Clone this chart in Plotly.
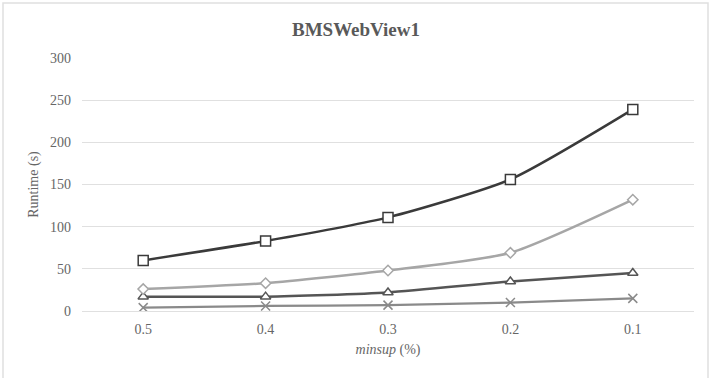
import plotly.graph_objects as go

categories = ["0.5", "0.4", "0.3", "0.2", "0.1"]
series_square = [60, 83, 111, 156, 239]
series_diamond = [26, 33, 48, 69, 132]
series_triangle = [17, 17, 22, 35, 45]
series_cross = [4, 6, 7, 10, 15]
y_ticks = [0, 50, 100, 150, 200, 250, 300]

FONT = "Liberation Serif, Times New Roman, DejaVu Serif, serif"
fig = go.Figure()

def add(vals, color, symbol, size, width, fill):
    fig.add_trace(go.Scatter(
        x=categories, y=vals, mode="lines+markers",
        line=dict(color=color, width=width, shape="spline", smoothing=0.6),
        marker=dict(symbol=symbol, size=size, color=fill,
                    line=dict(color=color, width=1.5)),
        showlegend=False))

add(series_cross, "#8a8a8a", "x-thin-open", 9, 2.2, "#8a8a8a")
add(series_triangle, "#555555", "triangle-up", 9, 2.5, "white")
add(series_diamond, "#a6a6a6", "diamond", 8, 2.5, "white")
add(series_square, "#3a3a3a", "square", 10, 2.5, "white")

L, R, T, B = 82, 18, 58, 67
PW, PH = 712 - L - R, 378 - T - B

def px(x):
    return (x - L) / PW

def py(y):
    return (378 - B - y) / PH

fig.update_layout(
    width=712, height=378,
    margin=dict(l=L, r=R, t=T, b=B),
    paper_bgcolor="white", plot_bgcolor="white",
    font=dict(family=FONT, color="#666666", size=14),
    title=dict(text="<b>BMSWebView1</b>", x=0.5, xref="container", xanchor="center",
               y=1 - 29/378, yanchor="middle",
               font=dict(family=FONT, size=19, color="#595959")),
    xaxis=dict(type="category", range=[-0.5, 4.5], showgrid=False,
               showline=False, ticks="", tickfont=dict(size=14),
               ticklabelstandoff=8,
               title=dict(text="<i>minsup</i> (%)", font=dict(size=14), standoff=8)),
    yaxis=dict(range=[0, 300], tickvals=y_ticks, showgrid=True,
               gridcolor="#e0e0e0", gridwidth=1.2, zeroline=True,
               zerolinecolor="#e0e0e0", zerolinewidth=1.2, showline=False,
               ticks="", tickfont=dict(size=14), ticklabelstandoff=10,
               title=dict(text="Runtime (s)", font=dict(size=14), standoff=8)),
    shapes=[dict(type="path", xref="paper", yref="paper",
                 path=f"M {px(3)} {py(380)} L {px(3)} {py(3)} L {px(708)} {py(3)} L {px(708)} {py(380)}",
                 line=dict(color="#e0e0e0", width=1.5))],
)

fig.write_html("out.html")
